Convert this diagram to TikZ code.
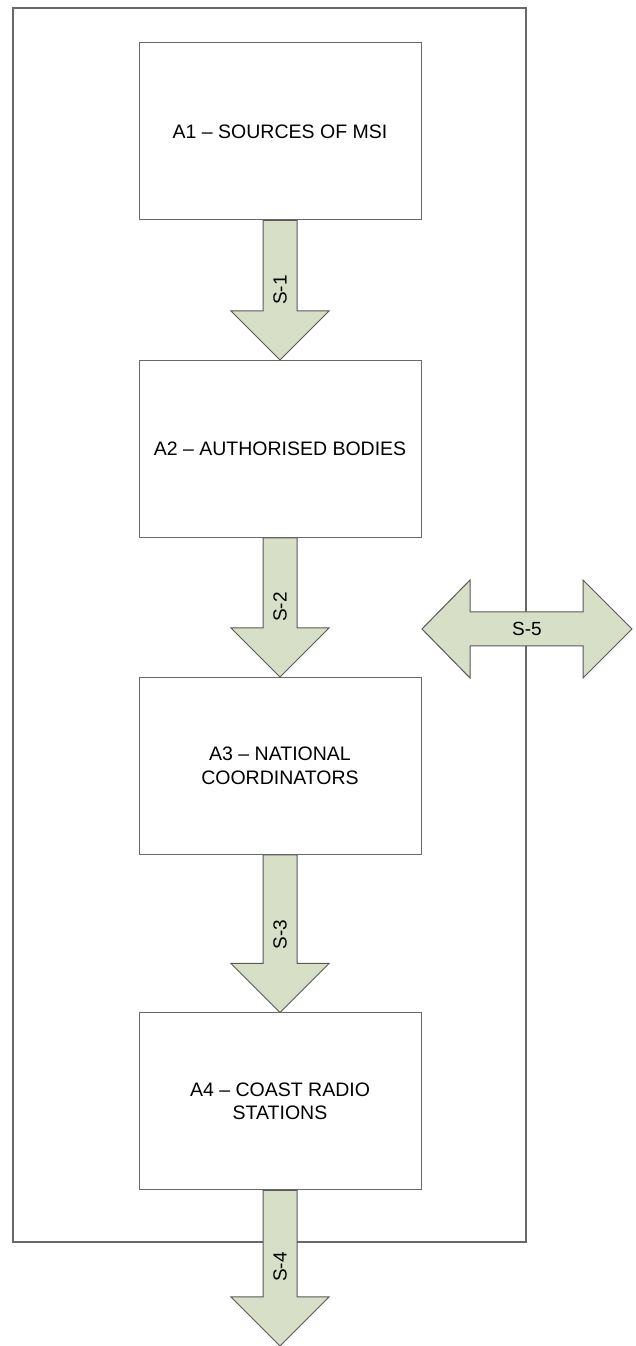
\documentclass[tikz,border=0pt]{standalone}
\usepackage{fontspec}
\setmainfont{Liberation Sans}
\usetikzlibrary{calc}
\definecolor{arrowgreen}{RGB}{215,223,198}
\definecolor{linegray}{RGB}{105,105,105}
\tikzset{
    msi-box/.style = {draw=linegray, fill=white, line width=1pt, rectangle, minimum width=282pt, minimum height=177pt, inner sep=0pt, align=center, font=\fontsize{19.5}{23.5}\selectfont},
    block-arrow/.style = {draw=linegray!85!black, fill=arrowgreen, line width=1pt, line join=miter},
    arrow-label/.style = {inner sep=0pt, font=\fontsize{19}{22}\selectfont},
    outer-frame/.style = {draw=linegray, line width=1.5pt},
}

\begin{document}
\begin{tikzpicture}[x=1pt, y=1pt]
\fill[white] (0,0) rectangle (636,1346);
\useasboundingbox (0,0) rectangle (636,1346);
\draw[outer-frame] (13,104) rectangle (526,1338);

\node[msi-box] (a1) at (280,1214.5) {A1 – SOURCES OF MSI};
\node[msi-box] (a2) at (280,897) {A2 – AUTHORISED BODIES};
\node[msi-box] (a3) at (280,580) {A3 – NATIONAL\\COORDINATORS};
\node[msi-box] (a4) at (280,244.5) {A4 – COAST RADIO\\STATIONS};
\coordinate (s4-tip) at (280,0);

\foreach \from/\to/\lab/\off in {a1.south/a2.north/S-1/21, a2.south/a3.north/S-2/21, a3.south/a4.north/S-3/29, a4.south/s4-tip/S-4/30}{
    \draw[block-arrow] ($(\from)+(-17,0)$) -- ($(\to)+(-17,49)$) -- ($(\to)+(-49,49)$) -- (\to)
        -- ($(\to)+(49,49)$) -- ($(\to)+(17,49)$) -- ($(\from)+(17,0)$) -- cycle;
    \node[arrow-label, rotate=90] at ($(\to)+(0,49+\off)$) {\lab};
}

% two-way exchange across the frame
\coordinate (s5) at (527,717);
\draw[block-arrow] ($(s5)+(-105,0)$) -- ($(s5)+(-57,49)$) -- ($(s5)+(-57,17)$) -- ($(s5)+(56,17)$)
    -- ($(s5)+(56,49)$) -- ($(s5)+(105,0)$) -- ($(s5)+(56,-49)$) -- ($(s5)+(56,-17)$)
    -- ($(s5)+(-57,-17)$) -- ($(s5)+(-57,-49)$) -- cycle;
\node[arrow-label] (s5-label) at (s5) {S-5};
\end{tikzpicture}
\end{document}
